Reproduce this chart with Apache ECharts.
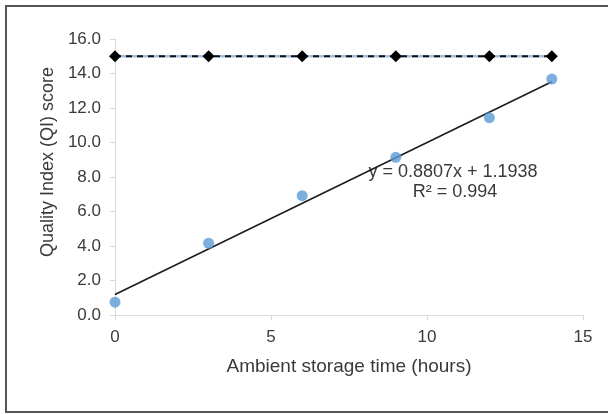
<!DOCTYPE html>
<html>
<head>
<meta charset="utf-8">
<script src="https://cdn.jsdelivr.net/npm/echarts@6/dist/echarts.min.js"></script>
<style>
  html, body { margin: 0; padding: 0; background: #fff; }
  #chart { width: 608px; height: 414px; }
</style>
</head>
<body>
<div id="chart"></div>
<script>
  // storage time (hours) and measured QI scores
  const hours = [0, 3, 6, 9, 12, 14];
  const qiScores = [0.74, 4.16, 6.92, 9.14, 11.44, 13.68];
  // maximum QI reference line
  const maxQi = [15, 15, 15, 15, 15, 15];
  // linear trend end points (y = 0.8807x + 1.1938)
  const trendX = [0, 14];
  const trendY = [1.19, 13.52];
  const eqText = 'y = 0.8807x + 1.1938';
  const r2Text = 'R² = 0.994';

  const font = '"Liberation Sans", Arial, sans-serif';
  const txt = '#3a3a3a';
  const chart = echarts.init(document.getElementById('chart'));

  const zip = (a, b) => a.map((v, i) => [v, b[i]]);

  chart.setOption({
    animation: false,
    backgroundColor: '#fff',
    textStyle: { fontFamily: font },
    grid: { left: 115, right: 25, top: 39, bottom: 99 },
    xAxis: {
      type: 'value',
      min: 0, max: 15, interval: 5,
      name: 'Ambient storage time (hours)',
      nameLocation: 'middle',
      nameGap: 42,
      nameTextStyle: { fontSize: 19, color: txt, fontFamily: font },
      axisLine: { show: true, lineStyle: { color: '#d9d9d9', width: 1 } },
      axisTick: { show: true, length: 5, lineStyle: { color: '#d9d9d9' } },
      axisLabel: { fontSize: 17, color: txt, margin: 14, fontFamily: font },
      splitLine: { show: false }
    },
    yAxis: {
      type: 'value',
      min: 0, max: 16, interval: 2,
      axisLine: { show: true, lineStyle: { color: '#d9d9d9', width: 1 } },
      axisTick: { show: true, length: 5, lineStyle: { color: '#d9d9d9' } },
      axisLabel: {
        fontSize: 17, color: txt, margin: 14, fontFamily: font,
        formatter: v => v.toFixed(1)
      },
      splitLine: { show: false }
    },
    series: [
      {
        type: 'line',
        data: zip(trendX, trendY),
        symbol: 'none',
        lineStyle: { color: '#1a1a1a', width: 1.5 },
        z: 2
      },
      {
        type: 'scatter',
        data: zip(hours, qiScores),
        symbol: 'circle',
        symbolSize: 11,
        itemStyle: { color: '#5b9bd5' },
        z: 3
      },
      {
        type: 'line',
        data: zip(hours, maxQi),
        symbol: 'none',
        lineStyle: { color: '#a6c0e0', width: 2.5 },
        z: 4
      },
      {
        type: 'line',
        data: zip(hours, maxQi),
        symbol: 'diamond',
        symbolSize: [12, 12],
        itemStyle: { color: '#000' },
        lineStyle: { color: '#111', width: 2, type: [6, 5] },
        z: 5
      }
    ],
    graphic: [
      {
        type: 'rect',
        shape: { x: 6, y: 6, width: 604, height: 406 },
        style: { fill: 'none', stroke: '#555', lineWidth: 2 },
        silent: true
      },
      {
        type: 'text',
        x: 48, y: 162,
        rotation: Math.PI / 2,
        style: {
          text: 'Quality Index (QI) score',
          fontSize: 18, fill: txt, fontFamily: font,
          align: 'center', verticalAlign: 'middle'
        }
      },
      {
        type: 'text',
        x: 453, y: 172,
        style: {
          text: eqText, fontSize: 18, fill: txt, fontFamily: font,
          align: 'center', verticalAlign: 'middle'
        }
      },
      {
        type: 'text',
        x: 455, y: 192,
        style: {
          text: r2Text, fontSize: 18, fill: txt, fontFamily: font,
          align: 'center', verticalAlign: 'middle'
        }
      }
    ]
  });
</script>
</body>
</html>
